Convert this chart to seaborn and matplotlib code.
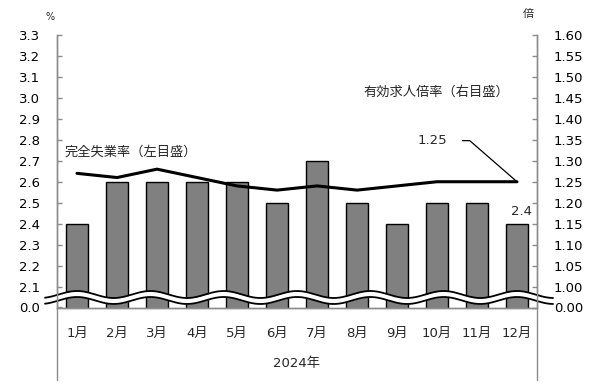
import numpy as np
import matplotlib
matplotlib.use("Agg")
import matplotlib.pyplot as plt
import seaborn as sns

# --- データ ---
months = ["1月", "2月", "3月", "4月", "5月", "6月", "7月", "8月", "9月", "10月", "11月", "12月"]
unemployment = [2.4, 2.6, 2.6, 2.6, 2.6, 2.5, 2.7, 2.5, 2.4, 2.5, 2.5, 2.4]   # 完全失業率 (%)
job_ratio = [1.27, 1.26, 1.28, 1.26, 1.24, 1.23, 1.24, 1.23, 1.24, 1.25, 1.25, 1.25]  # 有効求人倍率 (倍)

left_ticks = [2.0, 2.1, 2.2, 2.3, 2.4, 2.5, 2.6, 2.7, 2.8, 2.9, 3.0, 3.1, 3.2, 3.3]
left_labels = ["0.0"] + [f"{v:.1f}" for v in left_ticks[1:]]
right_ticks = [0.95, 1.00, 1.05, 1.10, 1.15, 1.20, 1.25, 1.30, 1.35, 1.40, 1.45, 1.50, 1.55, 1.60]
right_labels = ["0.00"] + [f"{v:.2f}" for v in right_ticks[1:]]

sns.set_theme(style="white")
plt.rcParams['font.family'] = ['DejaVu Sans', 'Noto Sans CJK JP']
plt.rcParams['axes.unicode_minus'] = False

GREY = "#8c8c8c"
FS = 9.5

fig = plt.figure(figsize=(6.07, 3.90), dpi=100)
ax = fig.add_axes([57 / 607, 1 - 307.5 / 390, 480 / 607, 272.5 / 390])

# 棒グラフ：完全失業率（左目盛）
sns.barplot(x=months, y=unemployment, ax=ax, color="#808080", edgecolor="black",
            linewidth=1.0, width=0.55, saturation=1, zorder=2)
ax.set_xlim(-0.5, 11.5)
ax.set_ylim(2.0, 3.3)
ax.set_yticks(left_ticks)
ax.set_yticklabels(left_labels)
ax.set_xlabel("")
ax.set_ylabel("")

# 折れ線：有効求人倍率（右目盛）
ax2 = ax.twinx()
sns.lineplot(x=np.arange(len(months)), y=job_ratio, ax=ax2, color="black",
             linewidth=2.2, zorder=3)
ax2.set_ylim(0.95, 1.60)
ax2.set_yticks(right_ticks)
ax2.set_yticklabels(right_labels)
ax2.set_ylabel("")

for a in (ax, ax2):
    a.spines["top"].set_visible(False)
    for side in ("left", "right", "bottom"):
        a.spines[side].set_color(GREY)
        a.spines[side].set_linewidth(1.0)
    a.tick_params(axis="y", direction="in", length=3.5, width=1.0, color=GREY,
                  labelsize=FS, labelcolor="black", pad=12)
    a.grid(False)

ax.tick_params(axis="x", length=0, labelsize=FS, pad=14)
ax.tick_params(axis="y", left=True, right=False)
ax2.tick_params(axis="y", left=False, right=True)

# 外側の枠（年の区切り）
for xa in (0, 1):
    ax.plot([xa, xa], [0, -0.266], transform=ax.transAxes, color=GREY,
            linewidth=1.0, clip_on=False)
fig.text(297 / 607, 1 - 363 / 390, "2024年", ha="center", va="center", fontsize=FS)

# 波線（軸の省略記号）
xs = np.linspace(-0.8, 11.9, 600)
period = 11 / 6
center = 2.0 + 10.0 / 209.6
amp = 3.5 / 209.6
half = 3.0 / 209.6
wave = center + amp * np.cos(2 * np.pi * xs / period)
ax.fill_between(xs, wave - half, wave + half, color="white", zorder=10, clip_on=False,
                linewidth=0)
ax.plot(xs, wave + half, color="black", linewidth=1.3, zorder=11, clip_on=False)
ax.plot(xs, wave - half, color="black", linewidth=1.3, zorder=11, clip_on=False)

# ラベル
ax.annotate(f"{unemployment[-1]:.1f}", xy=(11, unemployment[-1]), xytext=(3, 4),
            textcoords="offset points", ha="center", va="bottom", fontsize=FS, zorder=5)
ax2.annotate(f"{job_ratio[-1]:.2f}", xy=(11, job_ratio[-1]), xytext=(8.875, 1.348),
             textcoords="data", ha="center", va="center", fontsize=FS,
             arrowprops=dict(arrowstyle="-", color="black", lw=0.9, shrinkA=9, shrinkB=0,
                             connectionstyle="angle,angleA=0,angleB=139,rad=0"))

fig.text(65 / 607, 1 - 152 / 390, "完全失業率（左目盛）", ha="left", va="center", fontsize=FS)
fig.text(363 / 607, 1 - 92 / 390, "有効求人倍率（右目盛）", ha="left", va="center", fontsize=FS)
fig.text(50 / 607, 1 - 17 / 390, "%", ha="center", va="center", fontsize=7)
fig.text(528 / 607, 1 - 14 / 390, "倍", ha="center", va="center", fontsize=8)

fig.savefig("out.png", dpi=100)
